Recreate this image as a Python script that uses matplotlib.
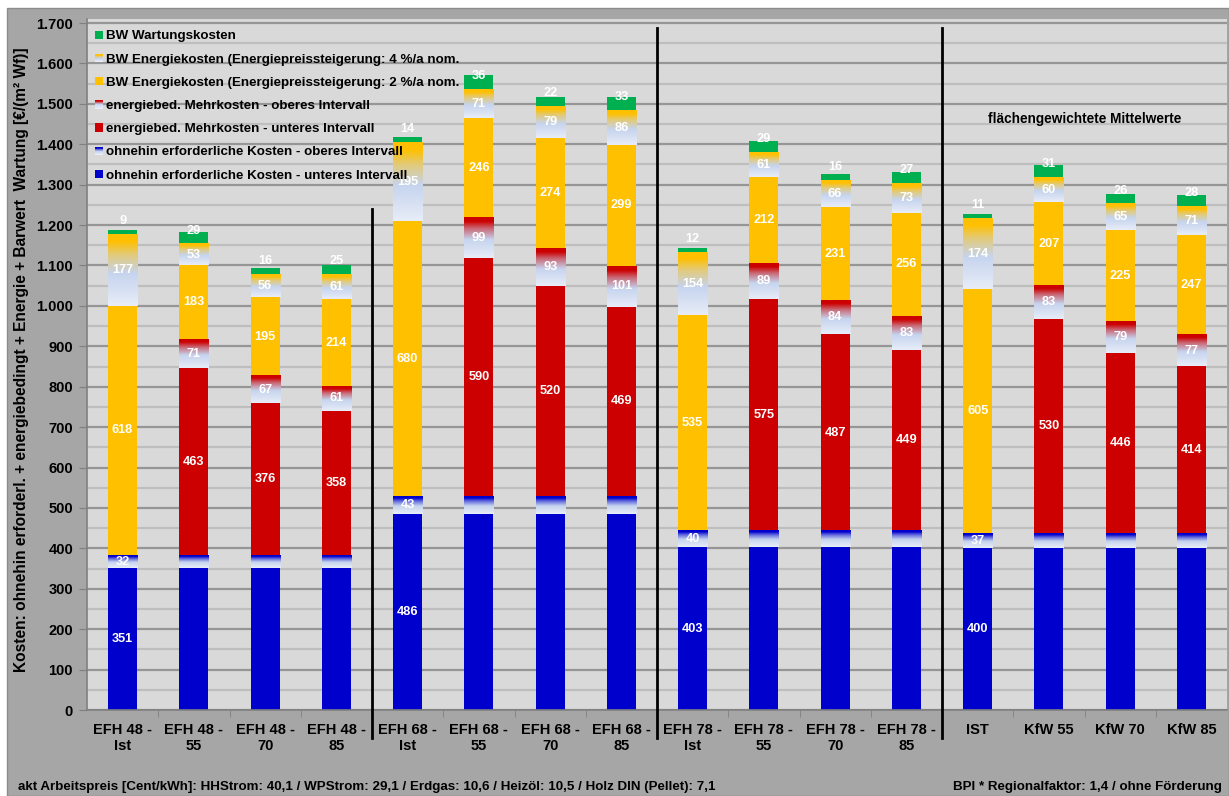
import numpy as np
import matplotlib
matplotlib.use("Agg")
import matplotlib.pyplot as plt
from matplotlib.patches import Rectangle
from matplotlib.colors import LinearSegmentedColormap, to_rgb
from matplotlib.legend_handler import HandlerBase

plt.rcParams['font.family'] = ['Liberation Sans', 'DejaVu Sans']
plt.rcParams['font.weight'] = 'bold'

# --- data (EUR / m2 Wf) ---
categories = ["EFH 48 -\nIst", "EFH 48 -\n55", "EFH 48 -\n70", "EFH 48 -\n85",
              "EFH 68 -\nIst", "EFH 68 -\n55", "EFH 68 -\n70", "EFH 68 -\n85",
              "EFH 78 -\nIst", "EFH 78 -\n55", "EFH 78 -\n70", "EFH 78 -\n85",
              "IST", "KfW 55", "KfW 70", "KfW 85"]
ohnehin_unten = [351, 351, 351, 351, 486, 486, 486, 486, 403, 403, 403, 403, 400, 400, 400, 400]
ohnehin_oben = [32, 32, 32, 32, 43, 43, 43, 43, 40, 40, 40, 40, 37, 37, 37, 37]
mehr_unten = [0, 463, 376, 358, 0, 590, 520, 469, 0, 575, 487, 449, 0, 530, 446, 414]
mehr_oben = [0, 71, 67, 61, 0, 99, 93, 101, 0, 89, 84, 83, 0, 83, 79, 77]
energie_2 = [618, 183, 195, 214, 680, 246, 274, 299, 535, 212, 231, 256, 605, 207, 225, 247]
energie_4 = [177, 53, 56, 61, 195, 71, 79, 86, 154, 61, 66, 73, 174, 60, 65, 71]
wartung = [9, 29, 16, 25, 14, 36, 22, 33, 12, 29, 16, 27, 11, 31, 26, 28]
ist_bar = [True, False, False, False] * 4

legend_labels = ["BW Wartungskosten",
                 "BW Energiekosten (Energiepreissteigerung: 4 %/a nom.",
                 "BW Energiekosten (Energiepreissteigerung: 2 %/a nom.",
                 "energiebed. Mehrkosten - oberes Intervall",
                 "energiebed. Mehrkosten - unteres Intervall",
                 "ohnehin erforderliche Kosten - oberes Intervall",
                 "ohnehin erforderliche Kosten - unteres Intervall"]

BLUE = '#0000CC'
RED = '#CC0000'
YELLOW = '#FFC000'
GREEN = '#00B050'
LIGHT_BOT = '#E8EDF8'
LIGHT_MID = '#C6D4EE'


def grad_cmap(color):
    c = np.array(to_rgb(color))
    mid = np.array(to_rgb(LIGHT_MID))
    blend = 0.5 * c + 0.5 * mid
    return LinearSegmentedColormap.from_list(
        'g', [(0, LIGHT_BOT), (0.45, LIGHT_MID), (0.72, blend), (0.9, c), (1, c)])


def grad_segment(ax, x, bottom, height, color, width):
    img = np.linspace(0, 1, 256).reshape(-1, 1)
    ax.imshow(img, cmap=grad_cmap(color), extent=(x - width / 2, x + width / 2, bottom, bottom + height),
              origin='lower', aspect='auto', zorder=2, interpolation='bilinear')


class GradHandler(HandlerBase):
    def __init__(self, color):
        super().__init__()
        self.color = color

    def create_artists(self, legend, orig_handle, xdescent, ydescent, width, height, fontsize, trans):
        cm = grad_cmap(self.color)
        n = 8
        arts = []
        for i in range(n):
            r = Rectangle((-xdescent, -ydescent + height * i / n), width, height / n,
                          facecolor=cm(i / (n - 1)), edgecolor='none', transform=trans)
            arts.append(r)
        return arts


fig = plt.figure(figsize=(12.29, 7.96), dpi=100, facecolor='white')
fig.patches.append(Rectangle((7 / 1229, 0), 1222 / 1229, 788 / 796, transform=fig.transFigure,
                             facecolor='#A6A6A6', edgecolor='#8C8C8C', lw=1, zorder=-10))
ax = fig.add_axes([87 / 1229, 1 - 710 / 796, 1140 / 1229, 691 / 796])
ax.set_facecolor('#D9D9D9')

x = np.arange(len(categories))
w = 0.41

b0 = np.array(ohnehin_unten)
b1 = b0 + np.array(ohnehin_oben)
b2 = b1 + np.array(mehr_unten)
b3 = b2 + np.array(mehr_oben)
b4 = b3 + np.array(energie_2)
b5 = b4 + np.array(energie_4)

ax.bar(x, ohnehin_unten, w, color=BLUE, zorder=2)
ax.bar(x, mehr_unten, w, bottom=b1, color=RED, zorder=2)
ax.bar(x, energie_2, w, bottom=b3, color=YELLOW, zorder=2)
ax.bar(x, wartung, w, bottom=b5, color=GREEN, zorder=2)
for i in range(len(x)):
    grad_segment(ax, x[i], b0[i], ohnehin_oben[i], BLUE, w)
    if mehr_oben[i] > 0:
        grad_segment(ax, x[i], b2[i], mehr_oben[i], RED, w)
    grad_segment(ax, x[i], b4[i], energie_4[i], YELLOW, w)

# data labels
lab = dict(ha='center', va='center', color='white', fontsize=9.2, fontweight='bold', zorder=5)
for i in range(len(x)):
    if ist_bar[i]:
        ax.text(x[i], ohnehin_unten[i] / 2, str(ohnehin_unten[i]), **lab)
        ax.text(x[i], b0[i] + ohnehin_oben[i] / 2, str(ohnehin_oben[i]), **lab)
    else:
        ax.text(x[i], b1[i] + mehr_unten[i] / 2, str(mehr_unten[i]), **lab)
        ax.text(x[i], b2[i] + mehr_oben[i] / 2, str(mehr_oben[i]), **lab)
    ax.text(x[i], b3[i] + energie_2[i] / 2, str(energie_2[i]), **lab)
    ax.text(x[i], b4[i] + energie_4[i] / 2, str(energie_4[i]), **lab)
    ax.text(x[i], b5[i] + 33, str(wartung[i]), **lab)

ax.set_xlim(-0.5, len(x) - 0.5)
ax.set_ylim(0, 1710)

# grid
ax.set_yticks(np.arange(0, 1701, 100))
ax.set_yticks(np.arange(50, 1700, 100), minor=True)
ax.yaxis.grid(True, which='major', color='#969696', lw=1.6, zorder=0)
ax.yaxis.grid(True, which='minor', color='#BEBEBE', lw=1.6, zorder=0)
ax.set_axisbelow(True)
ax.set_yticklabels([f"{v:,.0f}".replace(",", ".") for v in np.arange(0, 1701, 100)],
                   fontsize=10.5, fontweight='bold')
ax.tick_params(axis='y', which='major', length=6, color='#808080', pad=4)
ax.tick_params(axis='y', which='minor', length=0)

ax.set_xticks(x)
ax.set_xticklabels(categories, fontsize=10.5, fontweight='bold')
ax.set_xticks(np.arange(0.5, len(x) - 0.5, 1), minor=True)
ax.tick_params(axis='x', which='major', length=0, pad=9)
ax.tick_params(axis='x', which='minor', length=5, color='#808080')

for s in ['top', 'right']:
    ax.spines[s].set_visible(False)
for s in ['left', 'bottom']:
    ax.spines[s].set_color('#808080')
    ax.spines[s].set_linewidth(1.2)

# group separators
ax.plot([3.5, 3.5], [-69, 1240], color='black', lw=2, clip_on=False, zorder=6)
ax.plot([7.5, 7.5], [-69, 1688], color='black', lw=2, clip_on=False, zorder=6)
ax.plot([11.5, 11.5], [-69, 1688], color='black', lw=2, clip_on=False, zorder=6)

ax.text(13.5, 1462, "flächengewichtete Mittelwerte", ha='center', va='center',
        fontsize=9.8, fontweight='bold')

# legend
handles = [Rectangle((0, 0), 1, 1, facecolor=GREEN),
           Rectangle((0, 0), 1, 1, facecolor=YELLOW),
           Rectangle((0, 0), 1, 1, facecolor=YELLOW),
           Rectangle((0, 0), 1, 1, facecolor=RED),
           Rectangle((0, 0), 1, 1, facecolor=RED),
           Rectangle((0, 0), 1, 1, facecolor=BLUE),
           Rectangle((0, 0), 1, 1, facecolor=BLUE)]
hmap = {handles[1]: GradHandler(YELLOW), handles[3]: GradHandler(RED), handles[5]: GradHandler(BLUE)}
leg = ax.legend(handles, legend_labels, handler_map=hmap, loc='upper left',
                bbox_to_anchor=(0.0, 0.995), frameon=False, fontsize=9.6,
                handlelength=0.6, handleheight=0.6, handletextpad=0.25,
                labelspacing=0.84, borderaxespad=0.2)
for t in leg.get_texts():
    t.set_fontweight('bold')

fig.text(22 / 1229, 1 - 360 / 796,
         "Kosten: ohnehin erforderl. + energiebedingt + Energie + Barwert  Wartung [€/(m² Wf)]",
         rotation=90, ha='center', va='center', fontsize=11.2, fontweight='bold')
fig.text(18 / 1229, 1 - 787 / 796,
         "akt Arbeitspreis [Cent/kWh]: HHStrom: 40,1 / WPStrom: 29,1 / Erdgas: 10,6 / Heizöl: 10,5 / Holz DIN (Pellet): 7,1",
         ha='left', va='center', fontsize=9.6, fontweight='bold')
fig.text(1222 / 1229, 1 - 787 / 796, "BPI * Regionalfaktor: 1,4 / ohne Förderung",
         ha='right', va='center', fontsize=9.6, fontweight='bold')

fig.savefig('out.png', dpi=100, facecolor=fig.get_facecolor())
